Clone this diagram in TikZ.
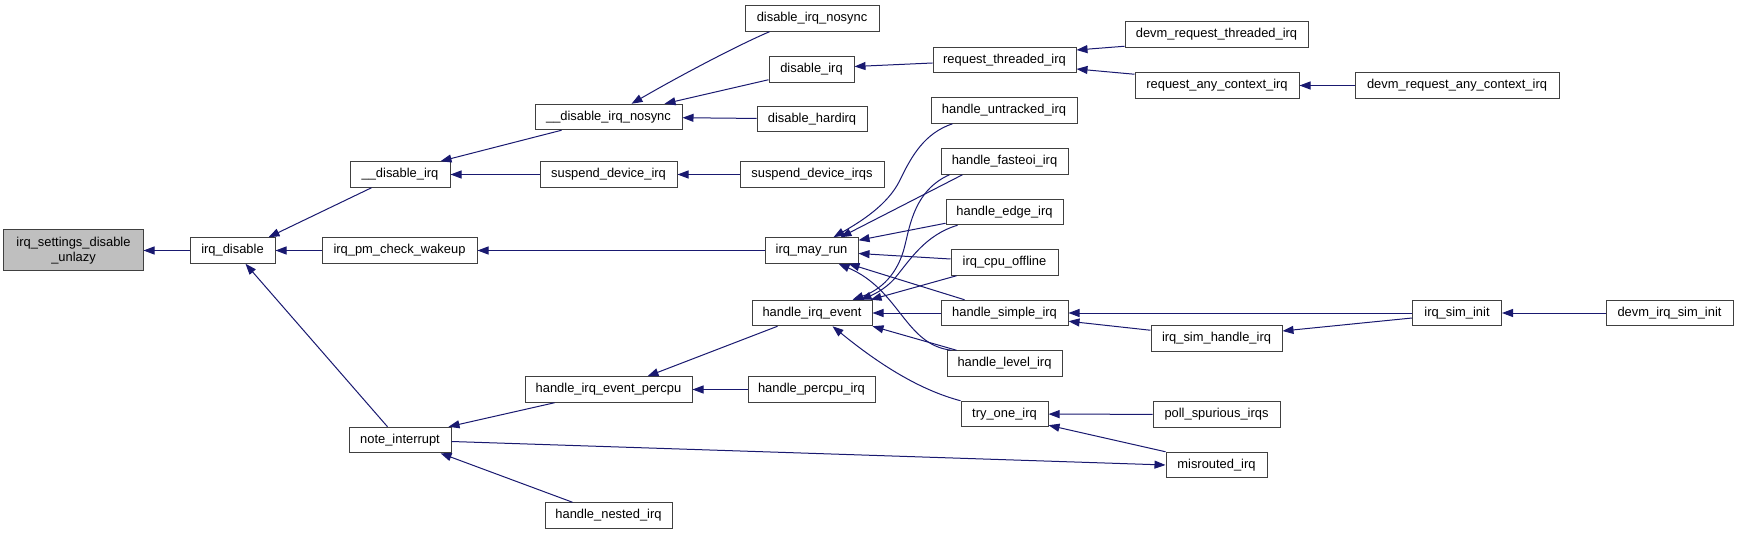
\documentclass[tikz,border=0pt]{standalone}
\usepackage{fontspec}
\setmainfont{Liberation Sans}
\usetikzlibrary{arrows.meta}
\definecolor{edgeblue}{HTML}{191970}
\definecolor{rootgray}{HTML}{BFBFBF}
\tikzset{
  fn/.style={draw=black!75, line width=1bp, fill=white, rectangle, inner sep=0pt,
    minimum height=25.5bp, font=\fontsize{12.9bp}{15bp}\selectfont, text=black},
  call/.style={draw=edgeblue, line width=1bp, -{Triangle[length=11bp,width=8bp]}, edgeblue},
}
\begin{document}
\begin{tikzpicture}[x=1bp,y=-1bp]
\fill[white] (0,0) rectangle (1739,535);
\useasboundingbox (0,0) rectangle (1739,535);
% nodes
\node[fn, fill=rootgray, minimum width=139bp, minimum height=41bp, align=center] (root) at (73.5,250.5) {irq\_settings\_disable\\\_unlazy};
\node[fn, minimum width=85bp]  (irqdisable) at (232.5,250.5) {irq\_disable};
\node[fn, minimum width=100bp] (disirq)     at (400,174.5)   {\_\_disable\_irq};
\node[fn, minimum width=155bp] (pmwake)     at (399.5,250.5) {irq\_pm\_check\_wakeup};
\node[fn, minimum width=102bp] (note)       at (400,440)     {note\_interrupt};
\node[fn, minimum width=147bp] (disnosync)  at (608.5,117)   {\_\_disable\_irq\_nosync};
\node[fn, minimum width=137bp] (suspdev)    at (608.5,174.5) {suspend\_device\_irq};
\node[fn, minimum width=167bp] (percpu)     at (608.5,389.5) {handle\_irq\_event\_percpu};
\node[fn, minimum width=127bp] (nested)     at (608.5,515.5) {handle\_nested\_irq};
\node[fn, minimum width=134bp] (dinosync)   at (812,18.5)    {disable\_irq\_nosync};
\node[fn, minimum width=85bp]  (disableirq) at (811.5,69.5)  {disable\_irq};
\node[fn, minimum width=110bp] (hardirq)    at (812,119)     {disable\_hardirq};
\node[fn, minimum width=144bp] (suspdevs)   at (812,174.5)   {suspend\_device\_irqs};
\node[fn, minimum width=93bp]  (mayrun)     at (811.5,250.5) {irq\_may\_run};
\node[fn, minimum width=120bp] (hie)        at (812,313)     {handle\_irq\_event};
\node[fn, minimum width=127bp] (hpercpu)    at (811.5,389.5) {handle\_percpu\_irq};
\node[fn, minimum width=143bp] (reqthr)     at (1004.5,60)   {request\_threaded\_irq};
\node[fn, minimum width=146bp] (untracked)  at (1004,110.5)  {handle\_untracked\_irq};
\node[fn, minimum width=127bp] (fasteoi)    at (1004.5,161.5){handle\_fasteoi\_irq};
\node[fn, minimum width=117bp] (edgeirq)    at (1004.5,212)  {handle\_edge\_irq};
\node[fn, minimum width=107bp] (cpuoff)     at (1004.5,262.5){irq\_cpu\_offline};
\node[fn, minimum width=127bp] (simple)     at (1004.5,313)  {handle\_simple\_irq};
\node[fn, minimum width=115bp] (level)      at (1004.5,363.5){handle\_level\_irq};
\node[fn, minimum width=87bp]  (tryone)     at (1004.5,414)  {try\_one\_irq};
\node[fn, minimum width=183bp] (devmrt)     at (1216.5,34.5) {devm\_request\_threaded\_irq};
\node[fn, minimum width=164bp] (reqany)     at (1217,85.5)   {request\_any\_context\_irq};
\node[fn, minimum width=131bp] (simh)       at (1216.5,338.5){irq\_sim\_handle\_irq};
\node[fn, minimum width=127bp] (poll)       at (1216.5,414.5){poll\_spurious\_irqs};
\node[fn, minimum width=101bp] (misr)       at (1216.5,465)  {misrouted\_irq};
\node[fn, minimum width=204bp] (devmany)    at (1457,85.5)   {devm\_request\_any\_context\_irq};
\node[fn, minimum width=89bp]  (siminit)    at (1457,313)    {irq\_sim\_init};
\node[fn, minimum width=127bp] (devmsim)    at (1669.5,313)  {devm\_irq\_sim\_init};
% edges (caller -> callee, arrow at callee)
\draw[call] (irqdisable) -- (root);
\draw[call] ([xshift=22bp]disirq.south west) -- ([xshift=-7bp]irqdisable.north east);
\draw[call] (pmwake) -- (irqdisable);
\draw[call] ([xshift=39bp]note.north west) -- ([xshift=56bp]irqdisable.south west);
\draw[call] ([xshift=27bp]disnosync.south west) -- ([xshift=-10bp]disirq.north east);
\draw[call] (suspdev) -- (disirq);
\draw[call] ([xshift=25bp]dinosync.south west) .. controls (745,42) and (690,70) .. ([xshift=97bp]disnosync.north west);
\draw[call] ([yshift=3bp]disableirq.south west) -- ([xshift=-18bp]disnosync.north east);
\draw[call] (hardirq) -- (disnosync);
\draw[call] (suspdevs) -- (suspdev);
\draw[call] ([yshift=-3bp]reqthr.west) -- ([yshift=3bp]disableirq.east);
\draw[call] ([yshift=1.5bp]devmrt.south west) -- ([yshift=10bp]reqthr.east);
\draw[call] ([yshift=-2bp]reqany.north west) -- ([yshift=-9bp]reqthr.east);
\draw[call] (devmany) -- (reqany);
\draw[call] (mayrun) -- (pmwake);
\draw[call] ([xshift=22bp]untracked.south west) .. controls (925,133) and (912,155) .. (900,180) .. controls (888,205) and (860,222) .. ([xshift=-25bp]mayrun.north east);
\draw[call] ([xshift=22bp]fasteoi.south west) -- ([xshift=-18bp]mayrun.north east);
\draw[call] ([yshift=2bp]edgeirq.south west) -- ([yshift=-3bp]mayrun.north east);
\draw[call] ([yshift=3.5bp]cpuoff.west) -- ([yshift=-3bp]mayrun.east);
\draw[call] ([xshift=24bp]simple.north west) -- ([xshift=-10bp]mayrun.south east);
\draw[call] ([xshift=5bp]level.north west) .. controls (905,345) and (900,290) .. ([xshift=-20bp]mayrun.south east);
\draw[call] ([xshift=9bp]fasteoi.south west) .. controls (915,190) and (910,225) .. (905,245) .. controls (898,275) and (880,290) .. ([xshift=-20bp]hie.north east);
\draw[call] ([xshift=12bp]edgeirq.south west) .. controls (925,235) and (910,260) .. (895,278) .. controls (885,290) and (870,296) .. ([xshift=-12bp]hie.north east);
\draw[call] ([xshift=6bp]cpuoff.south west) -- ([xshift=-2bp]hie.north east);
\draw[call] (simple) -- (hie);
\draw[call] ([xshift=10bp]level.north west) -- (hie.south east);
\draw[call] (tryone.north west) .. controls (920,390) and (880,365) .. ([xshift=81bp]hie.south west);
\draw[call] ([xshift=26bp]hie.south west) -- ([xshift=-45bp]percpu.north east);
\draw[call] (hpercpu) -- (percpu);
\draw[call] ([xshift=30bp]percpu.south west) -- ([xshift=-3bp]note.north east);
\draw[call] ([yshift=-1.5bp]note.east) -- (misr.west);
\draw[call] (misr.north west) -- ([yshift=2bp]tryone.south east);
\draw[call] (poll) -- (tryone);
\draw[call] ([xshift=28bp]nested.north west) -- ([xshift=-11bp]note.south east);
\draw[call] (siminit) -- (simple);
\draw[call] ([yshift=-5bp]simh.north west) -- ([yshift=5bp]simple.south east);
\draw[call] ([yshift=-5bp]siminit.west) -- ([yshift=7.5bp]simh.east);
\draw[call] (devmsim) -- (siminit);
\end{tikzpicture}
\end{document}
